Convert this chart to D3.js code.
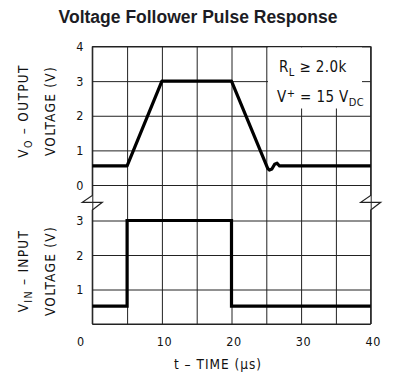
<!DOCTYPE html>
<html>
<head>
<meta charset="utf-8">
<script src="https://cdn.jsdelivr.net/npm/d3@7"></script>
<style>
  body { margin: 0; background: #fff; }
  svg { display: block; }
  .lbl { font-family: "Liberation Sans Narrow", "DejaVu Sans Condensed", "Arial Narrow", sans-serif; fill: #111; }
</style>
</head>
<body>
<svg id="chart" width="394" height="386"></svg>
<script>
// time axis (us)
var xTicks = [0, 5, 10, 15, 20, 25, 30, 35, 40];
var xLabels = ["0", "", "10", "", "20", "", "30", "", "40"];
var outTicks = [0, 1, 2, 3, 4];
var inTicks = [0, 1, 2, 3];
var inLabels = ["", "1", "2", "3"];

// output pulse (t, V)
var outT = [0, 5, 10, 20, 25.2, 25.45, 25.8, 26.2, 26.55, 26.9, 40];
var outV = [0.55, 0.55, 3, 3, 0.48, 0.43, 0.46, 0.6, 0.63, 0.55, 0.55];
// input pulse (t, V)
var inT = [0, 5, 5, 20, 20, 40];
var inV = [0.52, 0.52, 3, 3, 0.52, 0.52];

var svg = d3.select("#chart");

var x = d3.scaleLinear().domain([0, 40]).range([92.3, 370.7]);
var yOut = d3.scaleLinear().domain([0, 4]).range([185, 46.5]);
var yIn = d3.scaleLinear().domain([0, 3]).range([324, 220.5]);

var plotTop = yOut(4), plotBottom = yIn(0), plotLeft = x(0), plotRight = x(40);

svg.append("text")
  .attr("x", 198).attr("y", 23)
  .attr("text-anchor", "middle")
  .style("font-family", "'Liberation Sans', Arial, sans-serif")
  .style("font-weight", "bold")
  .style("font-size", "17.5px")
  .style("fill", "#1c1c24")
  .text("Voltage Follower Pulse Response");

// vertical grid lines + time labels
var gx = svg.append("g")
  .attr("transform", "translate(0," + plotBottom + ")")
  .call(d3.axisBottom(x).tickValues(xTicks)
    .tickSize(-(plotBottom - plotTop)).tickPadding(13)
    .tickFormat(function(d, i) { return xLabels[i]; }));
gx.select(".domain").remove();
gx.selectAll("line").attr("stroke", "#222").attr("stroke-width", 1);
gx.selectAll("text").attr("class", "lbl").style("font-size", "12.5px")
  .style("letter-spacing", "0.6px")
  .attr("dx", function(d) { return d === 0 ? -12 : 2; });

// output horizontal grid
var go = svg.append("g")
  .attr("transform", "translate(" + plotLeft + ",0)")
  .call(d3.axisLeft(yOut).tickValues(outTicks)
    .tickSize(-(plotRight - plotLeft)).tickPadding(9).tickFormat(d3.format("d")));
go.select(".domain").remove();
go.selectAll("line").attr("stroke", "#222").attr("stroke-width", 1);
go.selectAll("text").attr("class", "lbl").style("font-size", "12.5px");

// input horizontal grid
var gi = svg.append("g")
  .attr("transform", "translate(" + plotLeft + ",0)")
  .call(d3.axisLeft(yIn).tickValues(inTicks)
    .tickSize(-(plotRight - plotLeft)).tickPadding(9)
    .tickFormat(function(d, i) { return inLabels[i]; }));
gi.select(".domain").remove();
gi.selectAll("line").attr("stroke", "#222").attr("stroke-width", 1);
gi.selectAll("text").attr("class", "lbl").style("font-size", "12.5px");

// annotation box hides the grid
svg.append("rect")
  .attr("x", 268).attr("y", plotTop + 1)
  .attr("width", 94).attr("height", 61)
  .attr("fill", "#fff");

// border with break marks
function border(xb) {
  return [[xb, plotTop], [xb, 195.5], [xb - 10, 202.3], [xb + 10, 202.3], [xb, 210], [xb, plotBottom]];
}
var line = d3.line();
svg.append("path").attr("d", line(border(plotLeft)))
  .attr("fill", "none").attr("stroke", "#222").attr("stroke-width", 1.2);
svg.append("path").attr("d", line(border(plotRight)))
  .attr("fill", "none").attr("stroke", "#222").attr("stroke-width", 1.2);
svg.append("line").attr("x1", plotLeft).attr("x2", plotRight).attr("y1", plotTop).attr("y2", plotTop)
  .attr("stroke", "#222").attr("stroke-width", 1.2);
svg.append("line").attr("x1", plotLeft).attr("x2", plotRight).attr("y1", plotBottom).attr("y2", plotBottom)
  .attr("stroke", "#222").attr("stroke-width", 1.2);

// waveforms
var outLine = d3.line()
  .x(function(d, i) { return x(outT[i]); })
  .y(function(d, i) { return yOut(outV[i]); })
  .curve(d3.curveLinear);
svg.append("path").datum(outV).attr("d", outLine)
  .attr("fill", "none").attr("stroke", "#000").attr("stroke-width", 3.2)
  .attr("stroke-linejoin", "round");

var inLine = d3.line()
  .x(function(d, i) { return x(inT[i]); })
  .y(function(d, i) { return yIn(inV[i]); });
svg.append("path").datum(inV).attr("d", inLine)
  .attr("fill", "none").attr("stroke", "#000").attr("stroke-width", 3.2)
  .attr("stroke-linejoin", "miter");

// annotation text
var ann = svg.append("g").attr("class", "lbl").style("font-size", "15px")
  .style("letter-spacing", "0.4px");
var t1 = ann.append("text").attr("x", 279).attr("y", 72);
t1.append("tspan").text("R");
t1.append("tspan").attr("dy", 4).style("font-size", "11px").text("L");
t1.append("tspan").attr("dy", -4).text(" \u2265 2.0k");
var t2 = ann.append("text").attr("x", 277).attr("y", 101.5);
t2.append("tspan").text("V");
t2.append("tspan").attr("dy", -5).style("font-size", "11px").text("+");
t2.append("tspan").attr("dy", 5).text(" = 15 V");
t2.append("tspan").attr("dy", 4).style("font-size", "11px").text("DC");

// axis titles
function yTitle(cy, main, sub, rest) {
  var g = svg.append("g").attr("class", "lbl").style("font-size", "13.5px")
    .style("letter-spacing", "1.3px")
    .attr("text-anchor", "middle");
  var a = g.append("text").attr("transform", "translate(28," + cy + ") rotate(-90)");
  a.append("tspan").text(main);
  a.append("tspan").attr("dy", 4).style("font-size", "10.5px").text(sub);
  a.append("tspan").attr("dy", -4).text(rest);
  g.append("text").attr("transform", "translate(54.5," + cy + ") rotate(-90)")
    .text("VOLTAGE (V)");
}
yTitle(111, "V", "O", " \u2013 OUTPUT");
yTitle(271, "V", "IN", " \u2013 INPUT");

svg.append("text").attr("class", "lbl")
  .attr("x", 218).attr("y", 369)
  .attr("text-anchor", "middle")
  .style("font-size", "13.5px")
  .style("letter-spacing", "1px")
  .text("t \u2013 TIME (\u03bcs)");
</script>
</body>
</html>
